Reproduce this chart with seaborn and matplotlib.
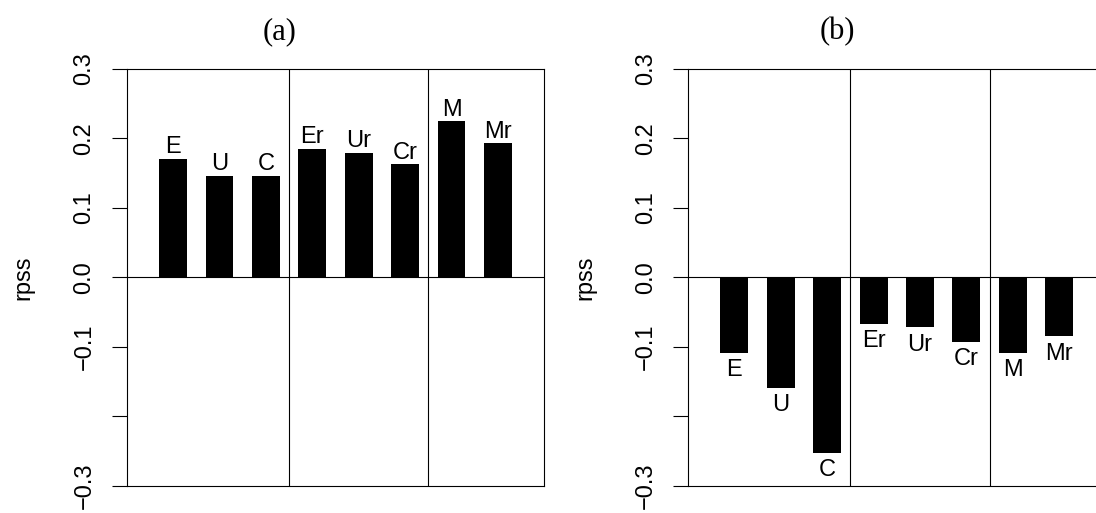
import pandas as pd
import seaborn as sns
import matplotlib.pyplot as plt

# data
labels = ["E", "U", "C", "Er", "Ur", "Cr", "M", "Mr"]
rpss_a = [0.171, 0.146, 0.146, 0.185, 0.179, 0.163, 0.225, 0.193]
rpss_b = [-0.109, -0.159, -0.253, -0.067, -0.072, -0.093, -0.109, -0.085]
yticks = [-0.3, -0.2, -0.1, 0.0, 0.1, 0.2, 0.3]
yticklabels = ["\u22120.3", "", "\u22120.1", "0.0", "0.1", "0.2", "0.3"]
panel_titles = ["(a)", "(b)"]

sns.set_style("white")
plt.rcParams['font.family'] = ['Liberation Sans', 'DejaVu Sans']
plt.rcParams['axes.unicode_minus'] = True
for k in ['text.color', 'axes.labelcolor', 'xtick.color', 'ytick.color', 'axes.edgecolor']:
    plt.rcParams[k] = 'black'

fig = plt.figure(figsize=(10.96, 5.13), dpi=100)
W, H = 1096, 513

# axes boxes in pixel terms (left, top, right, bottom)
boxes = [(126.7, 69, 544.3, 485.7), (688, 69, 1105.6, 485.7)]
title_x = [280, 837]
fs = 17

for i, (vals, box) in enumerate(zip([rpss_a, rpss_b], boxes)):
    l, t, r, b = box
    ax = fig.add_axes([l / W, 1 - b / H, (r - l) / W, (b - t) / H])
    df = pd.DataFrame({"model": labels, "rpss": vals})
    sns.barplot(data=df, x="model", y="rpss", color="black", saturation=1,
                width=0.6, linewidth=0, ax=ax)
    ax.set_xlim(-1, 8)
    ax.set_ylim(-0.3, 0.3)
    ax.axhline(0, color="black", lw=0.8)
    for xs in (2.5, 5.5):
        ax.axvline(xs, color="black", lw=0.8)

    # bar labels
    for j, v in enumerate(vals):
        if v >= 0:
            ax.text(j, v + 0.008, labels[j], ha="center", va="baseline", fontsize=fs)
        else:
            ax.text(j, v - 0.009, labels[j], ha="center", va="top", fontsize=fs)

    ax.set_xticks([])
    ax.set_xlabel("")
    ax.set_yticks(yticks)
    ax.set_yticklabels(yticklabels, rotation=90, va="center", fontsize=fs)
    ax.tick_params(axis="y", length=10.5, width=0.8, pad=12, color="black",
                   direction="out", left=True)
    for sp in ax.spines.values():
        sp.set_color("black")
        sp.set_linewidth(0.8)
        sp.set_visible(True)
    ax.set_ylabel("rpss", fontsize=fs)
    ax.yaxis.set_label_coords(-0.22, 0.5)

    fig.text(title_x[i] / W, 1 - 31.7 / H, panel_titles[i], ha="center", va="center",
             fontsize=22, family="Liberation Serif")

plt.savefig("out.png", dpi=100)
